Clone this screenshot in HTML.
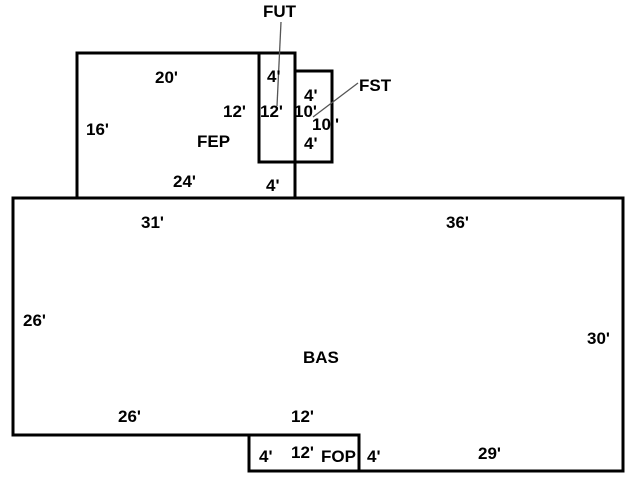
<!DOCTYPE html>
<html><head><style>
body{margin:0;background:#fff}
text{font-family:"Liberation Sans","DejaVu Sans",sans-serif;font-weight:bold;font-size:17px;fill:#000}
</style></head><body>
<svg width="640" height="480" xmlns="http://www.w3.org/2000/svg">
<g fill="none" stroke="#000" stroke-width="3">
<rect x="77" y="53" width="218" height="145"/>
<rect x="259" y="53" width="36" height="109"/>
<rect x="295" y="71" width="37" height="91"/>
<polygon points="13,198 623,198 623,471 249,471 249,435 13,435"/>
<rect x="249" y="435" width="110" height="36"/>
</g>
<g stroke="#555" stroke-width="1.3">
<line x1="281" y1="22" x2="277" y2="106"/>
<line x1="358" y1="83" x2="313" y2="117"/>
</g>
<text x="263" y="17">FUT</text>
<text x="359" y="91">FST</text>
<text x="155" y="83">20'</text>
<text x="86" y="135">16'</text>
<text x="223" y="117">12'</text>
<text x="197" y="147">FEP</text>
<text x="173" y="187">24'</text>
<text x="267" y="82">4'</text>
<text x="260" y="117">12'</text>
<text x="266" y="191">4'</text>
<text x="304" y="101">4'</text>
<text x="294" y="117">10'</text>
<text x="312" y="130">10</text>
<text x="335" y="130">'</text>
<text x="304" y="149">4'</text>
<text x="141" y="228">31'</text>
<text x="446" y="228">36'</text>
<text x="23" y="326">26'</text>
<text x="587" y="344">30'</text>
<text x="303" y="363">BAS</text>
<text x="118" y="422">26'</text>
<text x="291" y="422">12'</text>
<text x="259" y="462">4'</text>
<text x="291" y="458">12'</text>
<text x="321" y="462">FOP</text>
<text x="367" y="462">4'</text>
<text x="478" y="459">29'</text>
</svg>
</body></html>
